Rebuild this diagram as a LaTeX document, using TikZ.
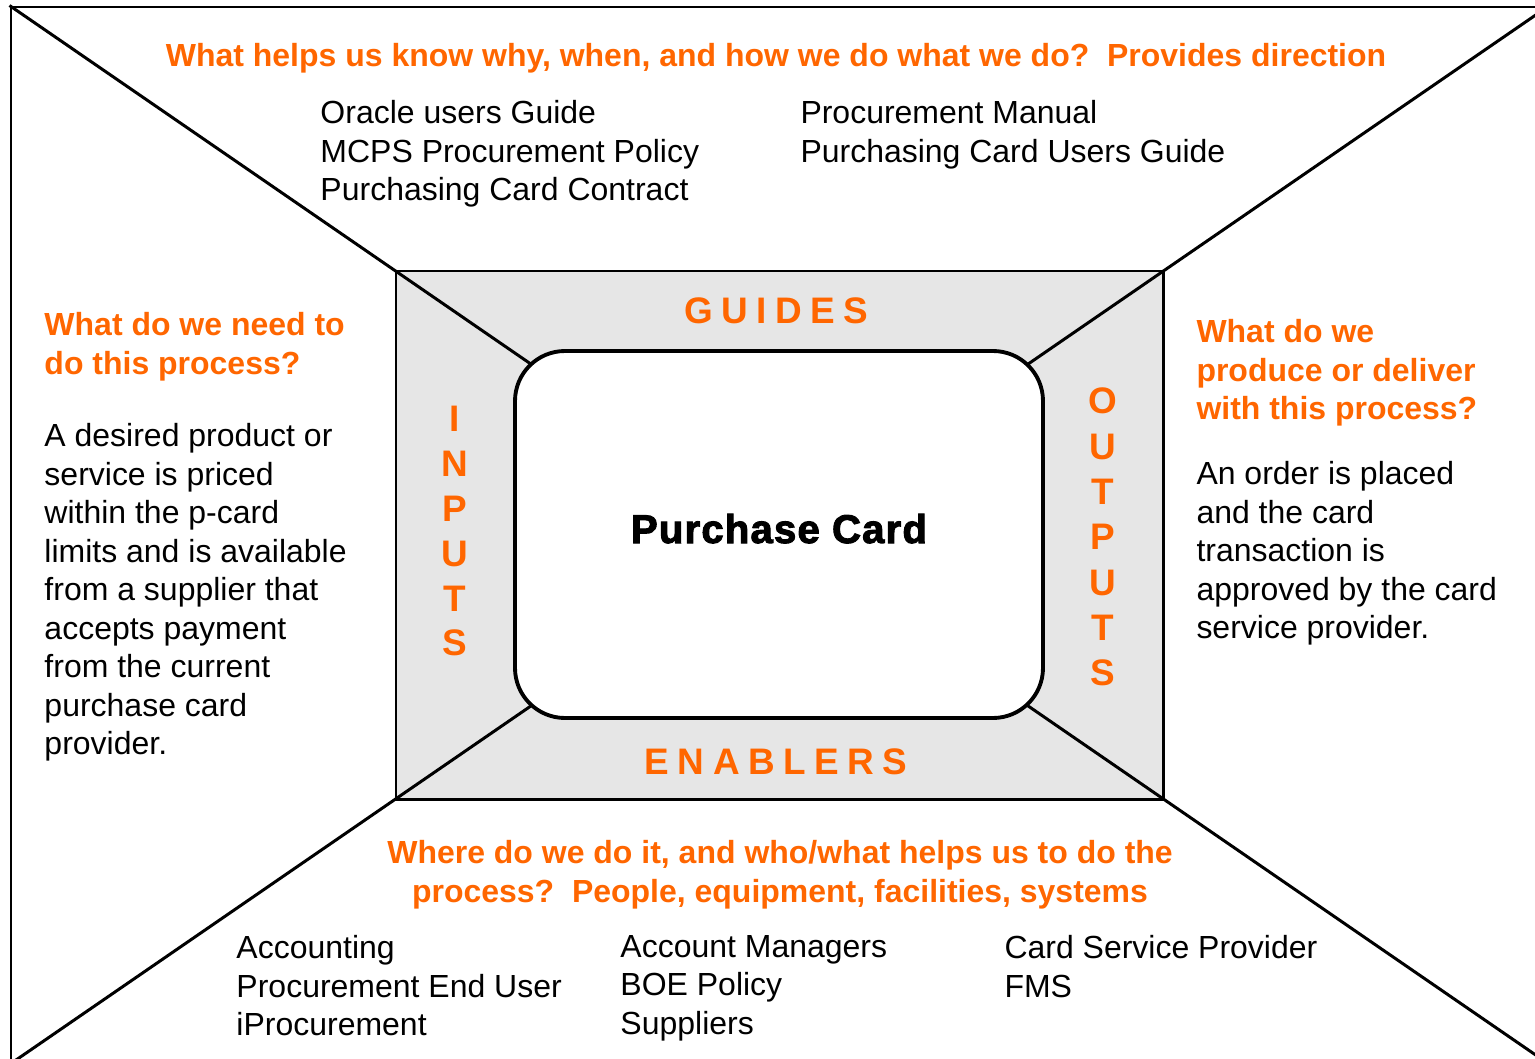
\documentclass[tikz,border=0pt]{standalone}
\usepackage{fontspec}
\setmainfont{Liberation Sans}
\newfontfamily\heavyfont[BoldFeatures={FakeBold=2.5}, LetterSpace=3]{Liberation Sans}
\newfontfamily\spacedfont[LetterSpace=23]{Liberation Sans}
\usepackage{xcolor}
\usepackage{tikz}
\usetikzlibrary{positioning}
\definecolor{siporange}{HTML}{FF6600}
\definecolor{sipgray}{HTML}{E6E6E6}

\begin{document}
\begin{tikzpicture}[line width=0.85pt,
  head/.style={inner sep=0pt, text=siporange, align=left, font=\fontsize{9.1}{10.95}\selectfont\bfseries},
  body/.style={inner sep=0pt, align=left, font=\fontsize{9.1}{10.95}\selectfont},
  tag/.style={inner sep=0pt, text=siporange, font=\spacedfont\fontsize{10.5}{12.8}\selectfont\bfseries},
  vtag/.style={inner sep=0pt, text=siporange, align=center, font=\fontsize{10.5}{12.8}\selectfont\bfseries}]
\useasboundingbox (0,0) rectangle (15.35,10.58);
% frame, grey panel and the two diagonals
\node (frame) [draw, inner sep=0pt, minimum width=15.37cm, minimum height=10.56cm] at (7.795,5.23) {};
\node (panel) [draw, fill=sipgray, inner sep=0pt, minimum width=7.67cm, minimum height=5.28cm] at (7.795,5.23) {};
\draw (frame.north west) -- (frame.south east);
\draw (frame.north east) -- (frame.south west);
\node (card) [draw, fill=white, line width=1.1pt, rounded corners=0.5cm, inner sep=0pt,
  minimum width=5.28cm, minimum height=3.67cm] at (7.79,5.235) {};
\node (title) [inner sep=0pt, anchor=base, font=\heavyfont\fontsize{11.4}{13}\selectfont\bfseries] at (7.79,5.15) {Purchase Card};
% panel labels
\node (guides) [tag, anchor=base] at (7.76,7.35) {GUIDES};
\node (enablers) [tag, anchor=base] at (7.76,2.84) {ENABLERS};
\node (inputs) [vtag] at (4.55,5.27) {I\\N\\P\\U\\T\\S};
\node (outputs) [vtag, font=\fontsize{10.5}{12.9}\selectfont\bfseries] at (11.03,5.21) {O\\U\\T\\P\\U\\T\\S};
% top
\node (guideq) [head, anchor=north] at (7.76,10.16) {What helps us know why, when, and how we do what we do?\ \ Provides direction};
\node (guidea) [body, anchor=north west] at (3.19,9.59) {Oracle users Guide\\MCPS Procurement Policy\\Purchasing Card Contract};
\node (guideb) [body, anchor=north west] at (7.99,9.59) {Procurement Manual\\Purchasing Card Users Guide};
% left
\node (inq) [head, anchor=north west] at (0.43,7.47) {What do we need to\\do this process?};
\node (ina) [body, anchor=north west] at (0.43,6.36) {A desired product or\\service is priced\\within the p-card\\limits and is available\\from a supplier that\\accepts payment\\from the current\\purchase card\\provider.};
% right
\node (outq) [head, anchor=north west] at (11.95,7.40) {What do we\\produce or deliver\\with this process?};
\node (outa) [body, anchor=north west] at (11.95,5.98) {An order is placed\\and the card\\transaction is\\approved by the card\\service provider.};
% bottom
\node (enq) [head, align=center, anchor=north] at (7.80,2.19) {Where do we do it, and who/what helps us to do the\\process?\ \ People, equipment, facilities, systems};
\node (ena) [body, anchor=north west] at (2.35,1.24) {Accounting\\Procurement End User\\iProcurement};
\node (enb) [body, anchor=north west] at (6.19,1.24) {Account Managers\\BOE Policy\\Suppliers};
\node (enc) [body, anchor=north west] at (10.03,1.24) {Card Service Provider\\FMS};
\end{tikzpicture}
\end{document}
